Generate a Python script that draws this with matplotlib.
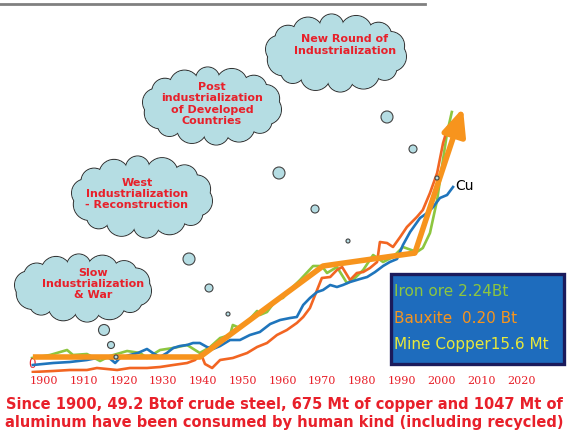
import numpy as np
import matplotlib
matplotlib.use("Agg")
import matplotlib.pyplot as plt
from matplotlib.patches import Circle, Ellipse, Rectangle
from matplotlib.lines import Line2D
from matplotlib.transforms import Affine2D

W, H = 569, 432

# values: year, index (0 = the red "0" mark)
iron_years = [1897.0, 1901.5, 1905.8, 1907.3, 1910.8, 1914.1, 1916.6, 1920.9, 1924.2, 1925.9,
              1929.2, 1932.5, 1936.0, 1939.2, 1941.8, 1944.3, 1946.8, 1947.5, 1949.3, 1951.1,
              1953.6, 1954.3, 1956.1, 1958.6, 1960.1, 1962.6, 1964.4, 1967.7, 1969.9, 1971.2,
              1973.7, 1976.2, 1977.7, 1980.3, 1982.8, 1985.3, 1987.8, 1990.3, 1993.8, 1995.3,
              1997.1, 1998.9, 2000.1, 2001.4, 2002.6]
iron_vals = [7, 10, 15, 10, 11, 4, 9, 14, 12, 7,
             15, 17, 20, 12, 18, 27, 30, 40, 37, 43,
             54, 50, 53, 66, 67, 78, 85, 99, 99, 92,
             98, 82, 85, 95, 110, 103, 108, 118, 113, 117,
             132, 165, 198, 232, 253]

bauxite_years = [1897.2, 1902.3, 1906.5, 1910.8, 1913.3, 1918.4, 1921.6, 1925.9, 1929.2, 1932.5,
                 1936.0, 1938.0, 1939.5, 1940.5, 1942.3, 1944.3, 1947.5, 1951.1, 1953.6, 1956.1,
                 1958.6, 1961.1, 1963.6, 1965.2, 1966.9, 1968.7, 1969.9, 1972.0, 1973.7, 1975.0,
                 1977.0, 1978.7, 1980.3, 1982.0, 1983.8, 1984.5, 1986.3, 1987.8, 1989.6, 1991.3,
                 1993.8, 1995.3, 1997.1, 1998.9, 2000.4, 2001.6, 2002.6, 2003.1]
bauxite_vals = [-7, -6, -5, -5, -3, -5, -3, -3, -2, 0,
                2, 5, 11, 1, -3, 5, 7, 12, 18, 22,
                30, 35, 42, 48, 57, 75, 87, 88, 95, 98,
                85, 92, 93, 97, 103, 123, 122, 118, 128, 138,
                148, 155, 172, 192, 222, 238, 235, 227]

copper_years = [1897.2, 1902.3, 1906.5, 1910.8, 1913.3, 1916.1, 1917.9, 1919.1, 1921.6, 1923.6,
                1925.9, 1927.4, 1929.2, 1930.9, 1932.5, 1934.2, 1936.0, 1937.5, 1939.2, 1941.0,
                1942.5, 1944.3, 1946.8, 1949.3, 1951.8, 1954.3, 1956.9, 1959.4, 1961.9, 1963.6,
                1965.2, 1966.9, 1968.7, 1970.2, 1972.0, 1973.7, 1975.2, 1977.0, 1979.5, 1981.3,
                1983.3, 1985.3, 1987.0, 1988.8, 1990.3, 1992.1, 1994.6, 1996.4, 1997.9, 1999.6,
                2001.4, 2002.9]
copper_vals = [0, 2, 3, 5, 7, 8, 2, 7, 10, 12,
               16, 12, 8, 12, 17, 19, 20, 22, 22, 18,
               16, 19, 25, 25, 30, 33, 41, 45, 47, 48,
               60, 67, 73, 75, 80, 78, 80, 83, 86, 88,
               93, 99, 103, 106, 120, 133, 147, 152, 158, 167,
               170, 178]

trend_years = [1897.2, 1939.2, 1970.2, 1993.3]
trend_vals = [8, 8, 99, 112]
trend_tip = (2005.4, 257)

tick_years = list(range(1900, 2030, 10))

cloud_texts = ["Slow\nIndustrialization\n& War",
               "West\nIndustrialization\n- Reconstruction",
               "Post\nindustrialization\nof Developed\nCountries",
               "New Round of\nIndustrialization"]
# cloud centre / half size / text centre, in pixels from the top left
cloud_boxes = [(83, 288, 69, 34, 93, 284),
               (142, 197, 71, 41, 137, 194),
               (212, 106, 70, 39, 212, 104),
               (336, 53, 71, 39, 345, 45)]
bubbles = [(387, 117, 6), (413, 149, 4), (279, 173, 6), (315, 209, 4), (348, 241, 2),
           (437, 178, 2), (189, 259, 6), (209, 288, 4), (228, 314, 2),
           (104, 330, 5.5), (111, 345, 3.5), (116, 357, 2)]

legend_texts = ["Iron ore 2.24Bt", "Bauxite  0.20 Bt", "Mine Copper15.6 Mt"]
legend_colors = ["#8dc63f", "#f7941d", "#e8e83a"]
caption = ["Since 1900, 49.2 Btof crude steel, 675 Mt of copper and 1047 Mt of",
           "aluminum have been consumed by human kind (including recycled)"]

RED = "#e8202a"
CLOUD = "#b5dde3"

fig = plt.figure(figsize=(W / 100, H / 100), dpi=100)
px = Affine2D().scale(1 / W, -1 / H).translate(0, 1) + fig.transFigure

ax = fig.add_axes([0, (H - 373) / H, 1, 373 / H])
ax.set_xlim(1900 - 44 / 3.975, 1900 + (W - 44) / 3.975)
ax.set_ylim(-8, 365)

ax.plot(iron_years, iron_vals, color="#8dc63f", lw=1.9, zorder=2)
ax.plot(bauxite_years, bauxite_vals, color="#f26522", lw=1.9, zorder=3)
ax.plot(copper_years, copper_vals, color="#1f75bc", lw=1.9, zorder=4)
ax.plot(trend_years, trend_vals, color="#f7941d", lw=4, zorder=5, solid_joinstyle="round",
        solid_capstyle="butt")
ax.annotate("", xy=trend_tip, xytext=(trend_years[-1], trend_vals[-1]),
            arrowprops=dict(arrowstyle="-|>,head_length=0.9,head_width=0.4", lw=4,
                            color="#f7941d", mutation_scale=18, shrinkA=0, shrinkB=0),
            zorder=5)

ax.text(2003.4, 179, "Cu", fontsize=10, color="black", va="center", ha="left")
ax.text(1897.0, 0, "0", fontsize=8.5, color=RED, family="DejaVu Serif", ha="center", va="center")

for s in ax.spines.values():
    s.set_visible(False)
ax.set_yticks([])
ax.set_xticks(tick_years)
ax.set_xticklabels([str(y) for y in tick_years], color=RED, fontsize=8, family="DejaVu Serif")
ax.tick_params(axis="x", length=0, pad=2)
ax.patch.set_alpha(0)

# top grey rule
fig.add_artist(Line2D([0, 425], [4, 4], transform=px, color="#808080", lw=2))

# clouds: lobes outlined first, then filled over so only the outer rim stays
lobe_r = [15, 12, 16, 13, 15, 12, 16, 14, 13, 15, 12, 16, 13, 14]
for (cx, cy, a, b, tx, ty), label in zip(cloud_boxes, cloud_texts):
    n = len(lobe_r)
    t = np.linspace(0, 2 * np.pi, n, endpoint=False) + 0.15
    lobes = [(cx + (a - r) * np.cos(u), cy + (b - r) * np.sin(u), r) for u, r in zip(t, lobe_r)]
    for x, y, r in lobes:
        fig.add_artist(Circle((x, y), r, transform=px, fc=CLOUD, ec="#333333", lw=0.9, zorder=6))
    for x, y, r in lobes:
        fig.add_artist(Circle((x, y), r - 0.4, transform=px, fc=CLOUD, ec="none", zorder=7))
    fig.add_artist(Ellipse((cx, cy), 2 * (a - 12), 2 * (b - 12), transform=px, fc=CLOUD,
                           ec="none", zorder=7))
    fig.text(tx, ty, label, transform=px, ha="center", va="center", color=RED,
             fontsize=8, fontweight="bold", linespacing=1.15, zorder=8)

for x, y, r in bubbles:
    fig.add_artist(Circle((x, y), r, transform=px, fc=CLOUD, ec="#444444", lw=0.8, zorder=9))

# legend box
fig.add_artist(Rectangle((391, 274), 173, 90, transform=px, fc="#1e6cbd", ec="#1b1b5c",
                         lw=2.4, zorder=9))
for i, (txt, col) in enumerate(zip(legend_texts, legend_colors)):
    fig.text(394, 292 + i * 26.5, txt, transform=px, color=col, fontsize=11,
             ha="left", va="center", zorder=10)

for i, line in enumerate(caption):
    fig.text(284, 405 + i * 18, line, transform=px, color=RED, fontsize=10.5,
             fontweight="bold", ha="center", va="center")

fig.savefig("out.png", dpi=100)
